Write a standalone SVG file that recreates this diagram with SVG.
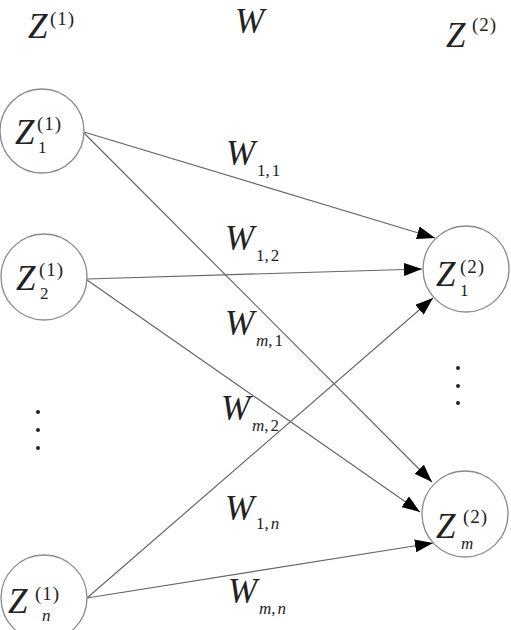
<svg xmlns="http://www.w3.org/2000/svg" width="511" height="630" viewBox="0 0 511 630">
<style>
.node{fill:#fff;stroke:#8a8a8a;stroke-width:1.3}
.edge{stroke:#666;stroke-width:1.2;fill:none}
text{font-family:"Liberation Serif","Times New Roman",serif;fill:#222}
.big{font-size:35px;font-style:italic}
.sup{font-size:19px;letter-spacing:1px}
.sub{font-size:17px}
.it{font-style:italic}
.dot{fill:#222}
</style>
<defs>
<marker id="arr" markerUnits="userSpaceOnUse" markerWidth="19" markerHeight="13" refX="18" refY="6.5" orient="auto">
<path d="M0,0 L18,6.5 L0,13 z" fill="#000"/>
</marker>
</defs>
<rect width="511" height="630" fill="#fff"/>
<g id="headers">
<text class="big" x="28" y="38">Z</text><text class="sup" x="50" y="25">(1)</text>
<text class="big" x="235" y="33">W</text>
<text class="big" x="446" y="47">Z</text><text class="sup" x="472" y="31">(2)</text>
</g>
<g id="connectors">
<line class="edge" x1="84" y1="132" x2="435" y2="238" marker-end="url(#arr)"/>
<line class="edge" x1="84" y1="133" x2="432" y2="482" marker-end="url(#arr)"/>
<line class="edge" x1="87" y1="279" x2="422" y2="269" marker-end="url(#arr)"/>
<line class="edge" x1="87" y1="280" x2="420" y2="512" marker-end="url(#arr)"/>
<line class="edge" x1="87" y1="598" x2="433" y2="298" marker-end="url(#arr)"/>
<line class="edge" x1="87" y1="598" x2="433" y2="543" marker-end="url(#arr)"/>
</g>
<g id="edge-labels">
<text class="big" x="226" y="165">W</text><text class="sub" x="257" y="176">1,<tspan dx="2">1</tspan></text>
<text class="big" x="225" y="250">W</text><text class="sub" x="256" y="261">1,<tspan dx="2">2</tspan></text>
<text class="big" x="225" y="335">W</text><text class="sub" x="256" y="346"><tspan class="it">m</tspan>,<tspan dx="2">1</tspan></text>
<text class="big" x="221" y="420">W</text><text class="sub" x="252" y="431"><tspan class="it">m</tspan>,<tspan dx="2">2</tspan></text>
<text class="big" x="225" y="520">W</text><text class="sub" x="256" y="529">1,<tspan class="it" dx="2">n</tspan></text>
<text class="big" x="228" y="603">W</text><text class="sub" x="259" y="614"><tspan class="it">m</tspan>,<tspan class="it" dx="2">n</tspan></text>
</g>
<g id="z1_1">
<circle class="node" cx="42" cy="131" r="42"/>
<text class="big" x="15" y="144">Z</text><text class="sup" x="37" y="130">(1)</text><text class="sub" x="38" y="153">1</text>
</g>
<g id="z2_1">
<circle class="node" cx="44" cy="277" r="43"/>
<text class="big" x="16" y="290">Z</text><text class="sup" x="39" y="276">(1)</text><text class="sub" x="40" y="299">2</text>
</g>
<g id="left-dots">
<circle class="dot" cx="38" cy="412" r="2"/><circle class="dot" cx="38" cy="430" r="2"/><circle class="dot" cx="38" cy="448" r="2"/>
</g>
<g id="zn_1">
<circle class="node" cx="44" cy="598" r="43"/>
<text class="big" x="8" y="613">Z</text><text class="sup" x="35" y="600">(1)</text><text class="sub it" x="42" y="621">n</text>
</g>
<g id="z1_2">
<circle class="node" cx="466" cy="269" r="43"/>
<text class="big" x="436" y="286">Z</text><text class="sup" x="460" y="273">(2)</text><text class="sub" x="460" y="296">1</text>
</g>
<g id="right-dots">
<circle class="dot" cx="458" cy="368" r="2"/><circle class="dot" cx="458" cy="386" r="2"/><circle class="dot" cx="458" cy="403" r="2"/>
</g>
<g id="zm_2">
<circle class="node" cx="465" cy="514" r="43"/>
<text class="big" x="436" y="538">Z</text><text class="sup" x="463" y="523">(2)</text><text class="sub it" x="461" y="549">m</text>
</g>
</svg>
